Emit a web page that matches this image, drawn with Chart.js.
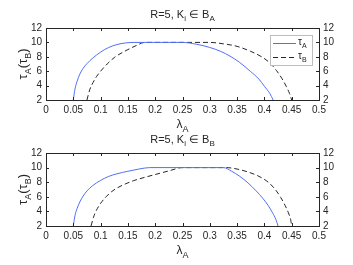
<!DOCTYPE html>
<html>
<head>
<meta charset="utf-8">
<script src="https://cdn.jsdelivr.net/npm/chart.js@4.4.0/dist/chart.umd.min.js"></script>
<style>
html,body{margin:0;padding:0;background:#fff;}
#wrap{position:relative;width:353px;height:265px;}
canvas{position:absolute;left:0;top:0;}
</style>
</head>
<body>
<div id="wrap">
<canvas id="c1" width="353" height="265"></canvas>
<canvas id="c2" width="353" height="265"></canvas>
</div>
<script>
// ---- data ----
const xTicks = [0, 0.05, 0.1, 0.15, 0.2, 0.25, 0.3, 0.35, 0.4, 0.45, 0.5];
const xTickLabels = ['0','0.05','0.1','0.15','0.2','0.25','0.3','0.35','0.4','0.45','0.5'];
const yTicks = [2, 4, 6, 8, 10, 12];
const yTickLabels = ['2','4','6','8','10','12'];

// Top panel: R=5, K_i in B_A
const topLamA = [0.05, 0.053, 0.057, 0.062, 0.068, 0.075, 0.086, 0.1, 0.115, 0.13, 0.145, 0.163, 0.25, 0.275, 0.3, 0.32, 0.337, 0.355, 0.374, 0.39, 0.4, 0.41, 0.416];
const topTauA = [2, 3.5, 4.6, 5.6, 6.4, 7.05, 7.85, 8.65, 9.3, 9.7, 9.92, 10, 10, 9.75, 9.3, 8.75, 8.1, 7.2, 6, 4.9, 3.9, 2.9, 2];
const topLamB = [0.075, 0.08, 0.086, 0.093, 0.1, 0.112, 0.126, 0.14, 0.15, 0.165, 0.181, 0.3, 0.325, 0.35, 0.375, 0.395, 0.41, 0.422, 0.432, 0.44, 0.446, 0.45];
const topTauB = [2, 3.4, 4.4, 5.3, 6, 7, 7.95, 8.6, 9.0, 9.55, 10, 10, 9.8, 9.45, 8.75, 8, 7.15, 6.1, 5, 3.9, 2.9, 2];

// Bottom panel: R=5, K_i in B_B
const botLamA = [0.05, 0.053, 0.057, 0.062, 0.068, 0.075, 0.085, 0.1, 0.115, 0.13, 0.15, 0.17, 0.19, 0.325, 0.34, 0.355, 0.37, 0.385, 0.397, 0.407, 0.415, 0.421, 0.425];
const botTauA = [2, 3.4, 4.4, 5.3, 6.1, 6.8, 7.5, 8.25, 8.8, 9.15, 9.5, 9.8, 10, 10, 9.5, 8.8, 7.9, 6.8, 5.8, 4.8, 3.8, 2.9, 2];
const botLamB = [0.0825, 0.087, 0.092, 0.1, 0.11, 0.12, 0.13, 0.145, 0.16, 0.18, 0.2, 0.225, 0.25, 0.33, 0.35, 0.37, 0.39, 0.407, 0.42, 0.43, 0.438, 0.444, 0.448, 0.45];
const botTauB = [2, 3.2, 4.1, 5.1, 6, 6.7, 7.2, 7.75, 8.2, 8.65, 9.05, 9.55, 10, 10, 9.8, 9.4, 8.8, 8, 7, 5.9, 4.8, 3.8, 2.9, 2];

const blue = '#5170f5';
const dark = '#262626';
const FONT = '"Liberation Sans", Arial, sans-serif';

function pts(xs, ys){ return xs.map((x,i)=>({x:x, y:ys[i]})); }

function drawRich(ctx, parts, x, y, size, align){
  let w = 0;
  const widths = parts.map(p=>{
    ctx.font = (p[1] ? Math.round(size*0.72) : size) + 'px ' + FONT;
    const m = ctx.measureText(p[0]).width; w += m; return m;
  });
  let cx = align === 'center' ? x - w/2 : (align === 'right' ? x - w : x);
  ctx.textBaseline = 'alphabetic';
  ctx.textAlign = 'left';
  parts.forEach((p,i)=>{
    ctx.font = (p[1] ? Math.round(size*0.72) : size) + 'px ' + FONT;
    ctx.fillText(p[0], cx, y + (p[1] ? size*0.3 : 0));
    cx += widths[i];
  });
}

function yAxis(pos, width){
  return {
    min: 2, max: 12, position: pos,
    afterBuildTicks: s => { s.ticks = yTicks.map(v=>({value:v})); },
    afterFit: s => { s.width = width; },
    grid: {display: false, drawTicks: false},
    border: {display: false},
    ticks: {padding: 4, color: dark, autoSkip: false, font: {size: 10, family: FONT},
            callback: (v) => { const i = yTicks.indexOf(v); return i >= 0 ? yTickLabels[i] : ''; }}
  };
}

function makeChart(id, lamA, tauA, lamB, tauB, titleSub, padTop, padBottom, showLegend){
  const decor = {
    id: 'decor',
    afterDraw(chart){
      const ctx = chart.ctx, a = chart.chartArea;
      const xs = chart.scales.x, ys = chart.scales.y;
      ctx.save();
      ctx.strokeStyle = dark; ctx.lineWidth = 1;
      ctx.strokeRect(Math.round(a.left)+0.5, Math.round(a.top)+0.5, Math.round(a.right-a.left), Math.round(a.bottom-a.top));
      ctx.beginPath();
      xTicks.forEach(t=>{
        const px = Math.round(xs.getPixelForValue(t))+0.5;
        ctx.moveTo(px, a.bottom); ctx.lineTo(px, a.bottom-3);
        ctx.moveTo(px, a.top); ctx.lineTo(px, a.top+3);
      });
      yTicks.forEach(t=>{
        const py = Math.round(ys.getPixelForValue(t))+0.5;
        ctx.moveTo(a.left, py); ctx.lineTo(a.left+3, py);
        ctx.moveTo(a.right, py); ctx.lineTo(a.right-3, py);
      });
      ctx.stroke();
      ctx.fillStyle = dark;
      const cx = (a.left + a.right)/2;
      drawRich(ctx, [['R=5, K',0],['i',1],[' \u2208 B',0],[titleSub,1]], cx, a.top - 10, 11, 'center');
      drawRich(ctx, [['\u03bb',0],['A',1]], cx, a.bottom + 28, 12, 'center');
      ctx.save();
      ctx.translate(a.left - 19, (a.top + a.bottom)/2);
      ctx.rotate(-Math.PI/2);
      drawRich(ctx, [['\u03c4',0],['A',1],['(\u03c4',0],['B',1],[')',0]], 0, 0, 13, 'center');
      ctx.restore();
      if (showLegend){
        const lx = a.right - 49, ly = a.top + 7, lw = 42, lh = 30;
        ctx.fillStyle = '#fff';
        ctx.fillRect(lx, ly, lw, lh);
        ctx.strokeStyle = '#bdbdbd';
        ctx.strokeRect(lx+0.5, ly+0.5, lw, lh);
        ctx.lineWidth = 1;
        ctx.strokeStyle = blue;
        ctx.beginPath(); ctx.moveTo(lx+3, ly+8.5); ctx.lineTo(lx+26, ly+8.5); ctx.stroke();
        ctx.strokeStyle = dark; ctx.setLineDash([5,3]);
        ctx.beginPath(); ctx.moveTo(lx+3, ly+22.5); ctx.lineTo(lx+26, ly+22.5); ctx.stroke();
        ctx.setLineDash([]);
        ctx.fillStyle = dark;
        drawRich(ctx, [['\u03c4',0],['A',1]], lx+28, ly+10, 10, 'left');
        drawRich(ctx, [['\u03c4',0],['B',1]], lx+28, ly+24, 10, 'left');
      }
      ctx.restore();
    }
  };
  return new Chart(document.getElementById(id), {
    type: 'line',
    data: {
      datasets: [
        {data: pts(lamA, tauA), borderColor: blue, borderWidth: 1, pointRadius: 0, cubicInterpolationMode: 'monotone', fill: false},
        {data: pts(lamB, tauB), borderColor: dark, borderWidth: 1, borderDash: [5,3], pointRadius: 0, cubicInterpolationMode: 'monotone', fill: false}
      ]
    },
    options: {
      responsive: false, animation: false,
      layout: {padding: {top: padTop, bottom: padBottom, left: 0, right: 0}},
      plugins: {legend: {display: false}, tooltip: {enabled: false}, title: {display: false}},
      scales: {
        x: {
          type: 'linear', min: 0, max: 0.5,
          afterBuildTicks: s => { s.ticks = xTicks.map(v=>({value:v})); },
          afterFit: s => { s.height = 33; },
          grid: {display: false, drawTicks: false},
          border: {display: false},
          ticks: {padding: 4, color: dark, font: {size: 10, family: FONT}, maxRotation: 0, autoSkip: false,
                  callback: (v) => { const i = xTicks.indexOf(v); return i >= 0 ? xTickLabels[i] : ''; }}
        },
        y: yAxis('left', 46),
        y2: yAxis('right', 34)
      }
    },
    plugins: [decor]
  });
}

makeChart('c1', topLamA, topTauA, topLamB, topTauB, 'A', 28, 265-100-33, true);
makeChart('c2', botLamA, botTauA, botLamB, botTauB, 'B', 153, 265-226-33, false);
</script>
</body>
</html>
